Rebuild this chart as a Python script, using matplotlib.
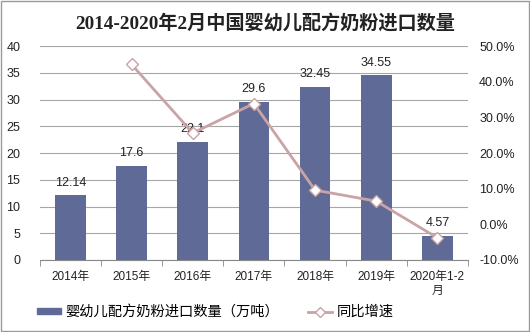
import numpy as np
import matplotlib.pyplot as plt
from matplotlib.lines import Line2D
from matplotlib.patches import Patch

plt.rcParams['font.family'] = ['Liberation Sans', 'Noto Sans CJK SC']

# data
categories = ['2014年', '2015年', '2016年', '2017年', '2018年', '2019年', '2020年1-2\n月']
imports = [12.14, 17.6, 22.1, 29.6, 32.45, 34.55, 4.57]
labels = ['12.14', '17.6', '22.1', '29.6', '32.45', '34.55', '4.57']
growth = [np.nan, 44.9, 25.6, 33.9, 9.6, 6.5, -3.8]

bar_color = '#5f6b96'
line_color = '#c9a3a6'

fig = plt.figure(figsize=(5.30, 3.32), dpi=100)
ax = fig.add_axes([0.075, 0.217, 0.808, 0.644])
x = np.arange(len(categories))

ax.bar(x, imports, width=0.5, color=bar_color, zorder=2)
for xi, v, s in zip(x, imports, labels):
    ax.text(xi, v + 1.2, s, ha='center', va='bottom', fontsize=9, color='#222222')

ax.set_xlim(-0.5, len(categories) - 0.5)
ax.set_ylim(0, 40)
ax.set_yticks(range(0, 41, 5))
ax.grid(axis='y', color='#a6a6a6', linewidth=0.8, zorder=0)
ax.set_xticks(x)
ax.set_xticklabels(categories, fontsize=8.5, color='#222222')
ax.tick_params(axis='x', length=0, pad=8)
ax.set_xticks(np.arange(-0.5, len(categories), 1), minor=True)
ax.tick_params(axis='x', which='minor', length=4, color='#888888')
ax.tick_params(axis='y', length=0, labelsize=9, labelcolor='#222222', pad=14)
for s in ['top', 'right', 'left']:
    ax.spines[s].set_visible(False)
ax.spines['bottom'].set_color('#888888')

ax2 = ax.twinx()
ax2.plot(x, growth, color=line_color, linewidth=2, marker='D', markersize=6,
         markerfacecolor='white', markeredgecolor=line_color, zorder=3)
ax2.set_ylim(-10, 50)
ax2.set_yticks(range(-10, 51, 10))
ax2.set_yticklabels([f'{v:.1f}%' for v in range(-10, 51, 10)])
ax2.tick_params(axis='y', length=0, labelsize=9, labelcolor='#222222', pad=8)
for s in ['top', 'right', 'left', 'bottom']:
    ax2.spines[s].set_visible(False)

fig.text(0.5, 0.93, '2014-2020年2月中国婴幼儿配方奶粉进口数量', ha='center', va='center',
         fontsize=13.8, fontweight='bold', color='#222222',
         family=['Liberation Serif', 'Noto Sans CJK SC'])

handles = [Patch(color=bar_color),
           Line2D([], [], color=line_color, linewidth=2, marker='D', markersize=5,
                  markerfacecolor='white', markeredgecolor=line_color)]
fig.legend(handles, ['婴幼儿配方奶粉进口数量（万吨）', '同比增速'], loc='center left',
           bbox_to_anchor=(0.045, 0.06), ncol=2, frameon=False, fontsize=10.3,
           handlelength=1.7, handletextpad=0.3, columnspacing=2.0, handleheight=0.35)

fig.patches.append(plt.Rectangle((0.002, 0.003), 0.996, 0.994, transform=fig.transFigure,
                                 fill=False, edgecolor='#9a9a9a', linewidth=1))

fig.savefig('out.png', dpi=100)
